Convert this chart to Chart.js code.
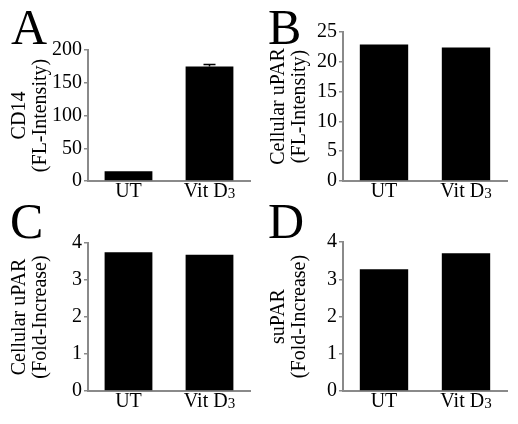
<!DOCTYPE html>
<html>
<head>
<meta charset="utf-8">
<script src="https://cdn.jsdelivr.net/npm/chart.js@4"></script>
<style>
  body { margin: 0; background: #fff; }
  #wrap { position: relative; width: 518px; height: 424px; overflow: hidden; }
  canvas { position: absolute; }
  .letter { position: absolute; font-family: "Liberation Serif", "Times New Roman", serif; font-size: 50px; line-height: 1; color: #000; }
</style>
</head>
<body>
<div id="wrap">
  <canvas id="chartA" width="259" height="210" style="left:0;top:0"></canvas>
  <canvas id="chartB" width="259" height="210" style="left:259px;top:0"></canvas>
  <canvas id="chartC" width="259" height="214" style="left:0;top:210px"></canvas>
  <canvas id="chartD" width="259" height="214" style="left:259px;top:210px"></canvas>
  <div class="letter" style="left:11px;top:2px">A</div>
  <div class="letter" style="left:268px;top:2px">B</div>
  <div class="letter" style="left:10px;top:196px">C</div>
  <div class="letter" style="left:268px;top:196px">D</div>
</div>
<script>
const categories = ["UT", "Vit D3"];

const cd14 = [15, 175];
const cd14Err = [0, 3];
const uparIntensity = [22.9, 22.4];
const uparFold = [3.75, 3.68];
const suparFold = [3.27, 3.70];

const serif = "'Liberation Serif', 'Times New Roman', serif";
const axisGray = "#8a8a8a";

// x labels drawn by hand so the 3 in D3 can be a subscript
const xLabelPlugin = {
    id: "xLabels",
    afterDraw(chart) {
        const ctx = chart.ctx;
        const xs = chart.scales.x;
        const y = chart.chartArea.bottom + 16;
        ctx.save();
        ctx.fillStyle = "#000";
        ctx.textBaseline = "alphabetic";
        categories.forEach((label, i) => {
            const cx = xs.getPixelForValue(i);
            let main = label, sub = "";
            if (label.endsWith("3")) {
                main = label.slice(0, -1);
                sub = "3";
            }
            ctx.font = "20px " + serif;
            const w1 = ctx.measureText(main).width;
            ctx.font = "15px " + serif;
            const w2 = sub ? ctx.measureText(sub).width : 0;
            let x = cx - (w1 + w2) / 2;
            ctx.textAlign = "left";
            ctx.font = "20px " + serif;
            ctx.fillText(main, x, y);
            if (sub) {
                ctx.font = "15px " + serif;
                ctx.fillText(sub, x + w1, y + 1);
            }
        });
        ctx.restore();
    }
};

const errorBarPlugin = {
    id: "errorBars",
    afterDatasetsDraw(chart, args, opts) {
        if (!opts.errors) return;
        const ctx = chart.ctx;
        const xs = chart.scales.x;
        const ys = chart.scales.y;
        const values = chart.data.datasets[0].data;
        ctx.save();
        ctx.strokeStyle = "#000";
        ctx.lineWidth = 1.5;
        opts.errors.forEach((e, i) => {
            if (!e) return;
            const cx = xs.getPixelForValue(i);
            const top = ys.getPixelForValue(values[i] + e);
            const base = ys.getPixelForValue(values[i]);
            ctx.beginPath();
            ctx.moveTo(cx, base);
            ctx.lineTo(cx, top);
            ctx.moveTo(cx - 6, top);
            ctx.lineTo(cx + 6, top);
            ctx.stroke();
        });
        ctx.restore();
    }
};

function makeChart(id, values, title, yMax, yStep, pad, yWidth, xHeight, errors) {
    return new Chart(document.getElementById(id), {
        type: "bar",
        data: {
            labels: categories,
            datasets: [{
                data: values,
                backgroundColor: "#000",
                barPercentage: 0.59,
                categoryPercentage: 1
            }]
        },
        plugins: [xLabelPlugin, errorBarPlugin],
        options: {
            responsive: false,
            animation: false,
            layout: { padding: pad },
            plugins: {
                legend: { display: false },
                tooltip: { enabled: false },
                errorBars: { errors: errors }
            },
            scales: {
                x: {
                    ticks: { display: false },
                    grid: { display: false },
                    border: { display: true, color: axisGray, width: 2 },
                    afterFit: (s) => { s.height = xHeight; }
                },
                y: {
                    min: 0,
                    max: yMax,
                    ticks: {
                        stepSize: yStep,
                        color: "#000",
                        padding: 2,
                        font: { family: serif, size: 20 }
                    },
                    grid: {
                        drawOnChartArea: false,
                        drawTicks: true,
                        tickLength: 4,
                        color: axisGray,
                        lineWidth: 1.5
                    },
                    border: { display: true, color: axisGray, width: 2 },
                    title: {
                        display: true,
                        text: title,
                        color: "#000",
                        font: { family: serif, size: 20, lineHeight: 1.05 },
                        padding: { top: 9, bottom: 0 }
                    },
                    afterFit: (s) => { s.width = yWidth; }
                }
            }
        }
    });
}

makeChart("chartA", cd14, ["CD14", "(FL-Intensity)"], 200, 50,
    { left: 0, top: 50, right: 9, bottom: 0 }, 88, 29, cd14Err);
makeChart("chartB", uparIntensity, ["Cellular uPAR", "(FL-Intensity)"], 25, 5,
    { left: 0, top: 32, right: 11, bottom: 0 }, 84, 29, null);
makeChart("chartC", uparFold, ["Cellular uPAR", "(Fold-Increase)"], 4, 1,
    { left: 0, top: 33, right: 9, bottom: 0 }, 88, 33, null);
makeChart("chartD", suparFold, ["suPAR", "(Fold-Increase)"], 4, 1,
    { left: 0, top: 32, right: 11, bottom: 0 }, 84, 33, null);
</script>
</body>
</html>
